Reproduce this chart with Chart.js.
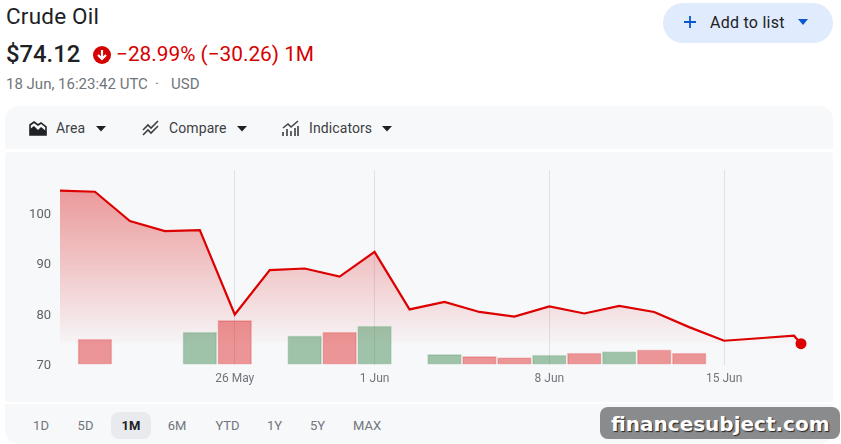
<!DOCTYPE html>
<html>
<head>
<meta charset="utf-8">
<title>Crude Oil</title>
<script src="https://cdn.jsdelivr.net/npm/chart.js@4"></script>
<style>
    html, body { margin: 0; padding: 0; background: #fff; }
    body { position: relative; width: 841px; height: 444px; overflow: hidden; font-family: Roboto, sans-serif; }
    .abs { position: absolute; white-space: nowrap; }
    .panel { position: absolute; left: 5px; width: 828px; background: #f7f8fa; }
    #toolbar { top: 106px; height: 43px; border-radius: 14px 14px 0 0; }
    #chartPanel { top: 152px; height: 250px; border-radius: 4px; }
    #rangePanel { top: 404px; height: 40px; border-radius: 0 0 14px 14px; }
    #chart { position: absolute; left: 5px; top: 152px; }
    #title { left: 6px; top: 3px; font-size: 22.5px; line-height: 26px; letter-spacing: 0.2px; color: #202124; }
    #price { left: 6px; top: 39px; font-size: 23.8px; line-height: 30px; font-weight: 500; color: #202124; }
    #change { left: 116px; top: 40px; font-size: 20.8px; line-height: 28px; color: #d50000; }
    #stamp { left: 6px; top: 75px; font-size: 15px; line-height: 18px; color: #70757a; }
    #stampUnit { left: 171px; top: 75px; font-size: 15px; line-height: 18px; color: #70757a; }
    #stampDot { left: 155px; top: 75px; font-size: 15px; line-height: 18px; color: #70757a; }
    #addButton { left: 663px; top: 3px; width: 170px; height: 40px; border-radius: 20px; background: #e0ebfd; }
    #addLabel { left: 710px; top: 13px; font-size: 16px; line-height: 20px; letter-spacing: 0.25px; color: #202124; }
    .tool { top: 120px; font-size: 14px; line-height: 17px; letter-spacing: 0.1px; color: #3c4043; }
    .range { top: 417px; font-size: 13px; line-height: 17px; color: #70757a; transform: translateX(-50%); }
    #activeRange { left: 111px; top: 412px; width: 40px; height: 27px; border-radius: 8px; background: #e8eaed; }
    #brand { left: 600px; top: 407px; width: 240px; height: 32px; border-radius: 8px; background: #8a8b8d; }
    #brandText { left: 611px; top: 411px; font-family: "DejaVu Sans", sans-serif; font-size: 20px; line-height: 26px; font-weight: 700; color: #fff; text-shadow: 1px 1px 1px #222; }
    svg { position: absolute; }
</style>
</head>
<body>
    <div class="abs" id="title">Crude Oil</div>
    <div class="abs" id="price">$74.12</div>
    <svg style="left:93px;top:46px" width="18" height="18" viewBox="0 0 18 18">
        <circle cx="9" cy="9" r="9" fill="#d50000"/>
        <path d="M9 4v9M5 9l4 4 4-4" stroke="#fff" stroke-width="2.2" fill="none"/>
    </svg>
    <div class="abs" id="change">−28.99% (−30.26) 1M</div>
    <div class="abs" id="stamp">18 Jun, 16:23:42 UTC</div>
    <div class="abs" id="stampDot">·</div>
    <div class="abs" id="stampUnit">USD</div>

    <div class="abs" id="addButton"></div>
    <svg style="left:683px;top:15px" width="14" height="14" viewBox="0 0 14 14">
        <path d="M7 1v12M1 7h12" stroke="#0b57d0" stroke-width="1.8"/>
    </svg>
    <div class="abs" id="addLabel">Add to list</div>
    <svg style="left:797px;top:19px" width="12" height="7" viewBox="0 0 12 7"><path d="M1 0h10L6 6z" fill="#0b57d0"/></svg>

    <div class="panel" id="toolbar"></div>
    <svg style="left:29px;top:120px" width="18" height="16" viewBox="0 0 18 16">
        <path d="M1 15V5l4-3 4 3 3-2 5 4v8z" fill="none" stroke="#202124" stroke-width="1.6"/>
        <path d="M1 15V9l4-3 4 4 3-3 5 4v4z" fill="#202124"/>
    </svg>
    <div class="abs tool" style="left:56px">Area</div>
    <svg style="left:95px;top:126px" width="12" height="6" viewBox="0 0 12 6"><path d="M1 0h10L6 5.5z" fill="#202124"/></svg>
    <svg style="left:142px;top:120px" width="18" height="16" viewBox="0 0 18 16">
        <path d="M1 10l5-5 3 3 7-7M1 15l5-5 3 3 7-7" fill="none" stroke="#3c4043" stroke-width="1.6"/>
    </svg>
    <div class="abs tool" style="left:169px">Compare</div>
    <svg style="left:236px;top:126px" width="12" height="6" viewBox="0 0 12 6"><path d="M1 0h10L6 5.5z" fill="#202124"/></svg>
    <svg style="left:282px;top:120px" width="18" height="16" viewBox="0 0 18 16">
        <path d="M1 8l5-4 3 3 7-6" fill="none" stroke="#3c4043" stroke-width="1.4"/>
        <path d="M1 12v4M5 9v7M9 11v5M13 8v8M16 6v10" stroke="#3c4043" stroke-width="1.6"/>
    </svg>
    <div class="abs tool" style="left:309px">Indicators</div>
    <svg style="left:381px;top:126px" width="12" height="6" viewBox="0 0 12 6"><path d="M1 0h10L6 5.5z" fill="#202124"/></svg>

    <div class="panel" id="chartPanel"></div>
    <canvas id="chart" width="828" height="250"></canvas>

    <div class="panel" id="rangePanel"></div>
    <div class="abs" id="activeRange"></div>
    <div id="ranges"></div>

    <div class="abs" id="brand"></div>
    <div class="abs" id="brandText">financesubject.com</div>

<script>
// trading days since the start of the window, the last entry is the live quote
const days = [0, 1, 2, 3, 4, 5, 6, 7, 8, 9, 10, 11, 12, 13, 14, 15, 16, 17, 18, 19, 20, 21, 21.2];
const prices = [104.4, 104.2, 98.4, 96.4, 96.6, 79.9, 88.7, 89.0, 87.4, 92.3, 80.9, 82.4, 80.4, 79.5, 81.5, 80.1, 81.6, 80.4, 77.4, 74.7, 75.2, 75.7, 74.12];

const volumeDays = [1, 4, 5, 7, 8, 9, 11, 12, 13, 14, 15, 16, 17, 18];
const volumes = [13.1, 16.7, 22.7, 14.7, 16.7, 19.8, 5.2, 4.2, 3.5, 4.9, 5.9, 6.6, 7.6, 5.9];
const volumeUp = [false, true, false, true, false, true, true, false, false, true, false, true, false, false];

const dateTickDays = [5, 9, 14, 19];
const dateTickLabels = ['26 May', '1 Jun', '8 Jun', '15 Jun'];
const priceTicks = [70, 80, 90, 100];
const rangeLabels = ['1D', '5D', '1M', '6M', 'YTD', '1Y', '5Y', 'MAX'];
const rangeCenters = [41, 85.5, 131, 177, 227.5, 274.5, 317.5, 367];

const previousClose = 74.12;

rangeLabels.forEach((label, i) => {
    const item = document.createElement('div');
    item.className = 'abs range';
    item.style.left = rangeCenters[i] + 'px';
    item.textContent = label;
    if (label === '1M') {
        item.style.fontWeight = '700';
        item.style.color = '#202124';
    }
    document.getElementById('ranges').appendChild(item);
});

function areaGradient(context) {
    const chart = context.chart;
    if (!chart.chartArea) {
        return 'rgba(217, 0, 0, 0.38)';
    }
    const yScale = chart.scales.y;
    const gradient = chart.ctx.createLinearGradient(0, yScale.getPixelForValue(104.4), 0, yScale.getPixelForValue(previousClose));
    gradient.addColorStop(0, 'rgba(217, 0, 0, 0.38)');
    gradient.addColorStop(1, 'rgba(217, 0, 0, 0.01)');
    return gradient;
}

const ctx = document.getElementById('chart').getContext('2d');
new Chart(ctx, {
    type: 'line',
    data: {
        datasets: [
            {
                type: 'line',
                data: days.map((d, i) => ({ x: d, y: prices[i] })),
                yAxisID: 'y',
                order: 2,
                clip: false,
                borderColor: '#dc0000',
                borderWidth: 2.2,
                tension: 0,
                fill: { value: previousClose },
                backgroundColor: areaGradient,
                pointRadius: (c) => (c.dataIndex === days.length - 1 ? 5.5 : 0),
                pointBackgroundColor: '#dc0000',
                pointBorderWidth: 0
            },
            {
                type: 'bar',
                data: volumeDays.map((d, i) => ({ x: d, y: volumes[i] })),
                yAxisID: 'volume',
                order: 1,
                barThickness: 34,
                backgroundColor: volumeUp.map(up => up ? 'rgba(52, 130, 70, 0.45)' : 'rgba(217, 0, 0, 0.4)'),
                borderColor: volumeUp.map(up => up ? 'rgba(52, 130, 70, 0.2)' : 'rgba(217, 0, 0, 0.2)'),
                borderWidth: 1
            }
        ]
    },
    options: {
        responsive: false,
        animation: false,
        layout: { padding: { top: 18, right: 32, left: 0, bottom: 0 } },
        plugins: { legend: { display: false }, tooltip: { enabled: false } },
        scales: {
            x: {
                type: 'linear',
                offset: false,
                min: 0,
                max: 21.2,
                afterBuildTicks: (axis) => { axis.ticks = dateTickDays.map(value => ({ value })); },
                afterFit: (axis) => { axis.height = 37.5; },
                border: { display: false },
                // bar datasets switch grid offset on by default, the lines must stay on the dates
                grid: { color: '#dfe1e5', lineWidth: 1, drawTicks: false, offset: false },
                ticks: {
                    autoSkip: false,
                    maxRotation: 0,
                    padding: 7,
                    color: '#70757a',
                    font: { family: 'Roboto', size: 12 },
                    callback: (value) => dateTickLabels[dateTickDays.indexOf(value)]
                }
            },
            y: {
                position: 'left',
                min: 70,
                max: 108.5,
                afterBuildTicks: (axis) => { axis.ticks = priceTicks.map(value => ({ value })); },
                afterFit: (axis) => { axis.width = 55; },
                border: { display: false },
                grid: { display: false },
                ticks: {
                    padding: 1,
                    labelOffset: 1.5,
                    color: '#5f6368',
                    font: { family: 'Roboto', size: 13 }
                }
            },
            volume: {
                display: false,
                min: 0,
                max: 100
            }
        }
    }
});
</script>
</body>
</html>
